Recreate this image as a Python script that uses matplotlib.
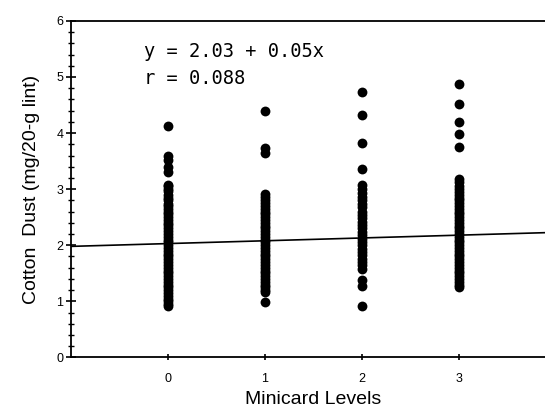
import numpy as np
import matplotlib.pyplot as plt
from matplotlib.ticker import MultipleLocator

# dust readings per minicard level (mg/20-g lint)
dust_0 = [4.12, 3.60, 3.52, 3.40, 3.30, 3.08, 3.05, 3.00, 2.96, 2.90, 2.85, 2.80,
          2.74, 2.70, 2.65, 2.60, 2.55, 2.50, 2.45, 2.40, 2.36, 2.30, 2.26, 2.20,
          2.15, 2.10, 2.05, 2.00, 1.95, 1.90, 1.85, 1.80, 1.76, 1.70, 1.65, 1.60,
          1.55, 1.50, 1.45, 1.40, 1.35, 1.30, 1.25, 1.20, 1.15, 1.10, 1.05, 1.00,
          0.96, 0.92]
dust_1 = [4.40, 3.74, 3.64, 2.92, 2.86, 2.80, 2.75, 2.70, 2.65, 2.60, 2.55, 2.50,
          2.45, 2.40, 2.35, 2.30, 2.25, 2.20, 2.15, 2.10, 2.05, 2.00, 1.95, 1.90,
          1.85, 1.80, 1.75, 1.70, 1.65, 1.60, 1.55, 1.50, 1.45, 1.40, 1.35, 1.30,
          1.25, 1.20, 1.16, 0.98]
dust_2 = [4.74, 4.33, 3.83, 3.36, 3.07, 3.00, 2.93, 2.86, 2.80, 2.74, 2.68, 2.60,
          2.54, 2.48, 2.42, 2.36, 2.30, 2.24, 2.18, 2.12, 2.06, 2.00, 1.94, 1.88,
          1.82, 1.76, 1.70, 1.64, 1.58, 1.38, 1.28, 0.92]
dust_3 = [4.87, 4.51, 4.19, 3.99, 3.76, 3.18, 3.12, 3.06, 3.00, 2.95, 2.90, 2.85,
          2.80, 2.75, 2.70, 2.65, 2.60, 2.55, 2.50, 2.45, 2.40, 2.35, 2.30, 2.25,
          2.20, 2.15, 2.10, 2.05, 2.00, 1.95, 1.90, 1.85, 1.80, 1.75, 1.70, 1.65,
          1.60, 1.55, 1.50, 1.45, 1.40, 1.35, 1.30, 1.25]
levels = [0, 1, 2, 3]

intercept = 2.03
slope = 0.05
r_value = 0.088

fig = plt.figure(figsize=(5.45, 4.09), dpi=100)
ax = fig.add_axes([0.130, 0.126, 0.890, 0.823])

for lvl, vals in zip(levels, [dust_0, dust_1, dust_2, dust_3]):
    ax.scatter([lvl] * len(vals), vals, s=50, color="black", linewidths=0, zorder=3)

xs = np.array([-1.0, 4.0])
ax.plot(xs, intercept + slope * xs, color="black", lw=1.2, zorder=2)

ax.set_xlim(-1, 4)
ax.set_ylim(0, 6)
ax.set_xticks(levels)
ax.yaxis.set_major_locator(MultipleLocator(1))
ax.yaxis.set_minor_locator(MultipleLocator(0.2))
ax.spines["right"].set_visible(False)
for s in ["left", "bottom", "top"]:
    ax.spines[s].set_linewidth(1.3)

ax.tick_params(axis="y", which="major", direction="inout", length=7, width=1.2,
               labelsize=9, pad=2)
ax.tick_params(axis="y", which="minor", direction="inout", length=5, width=1.0)
ax.tick_params(axis="x", which="major", direction="inout", length=5, width=1.2,
               labelsize=9, pad=9)

ax.set_xlabel("Minicard Levels", fontsize=14, family="Liberation Sans", labelpad=4)
ax.set_ylabel("Cotton  Dust (mg/20-g lint)", fontsize=14, family="Liberation Sans",
              labelpad=12)
for lab in ax.get_xticklabels() + ax.get_yticklabels():
    lab.set_family("Liberation Sans")

ax.text(-0.25, 5.36, f"y = {intercept:.2f} + {slope:.2f}x", fontsize=13.5,
        family="DejaVu Sans Mono", va="baseline")
ax.text(-0.25, 4.88, f"r = {r_value:.3f}", fontsize=13.5,
        family="DejaVu Sans Mono", va="baseline")

fig.savefig("out.png", dpi=100)
